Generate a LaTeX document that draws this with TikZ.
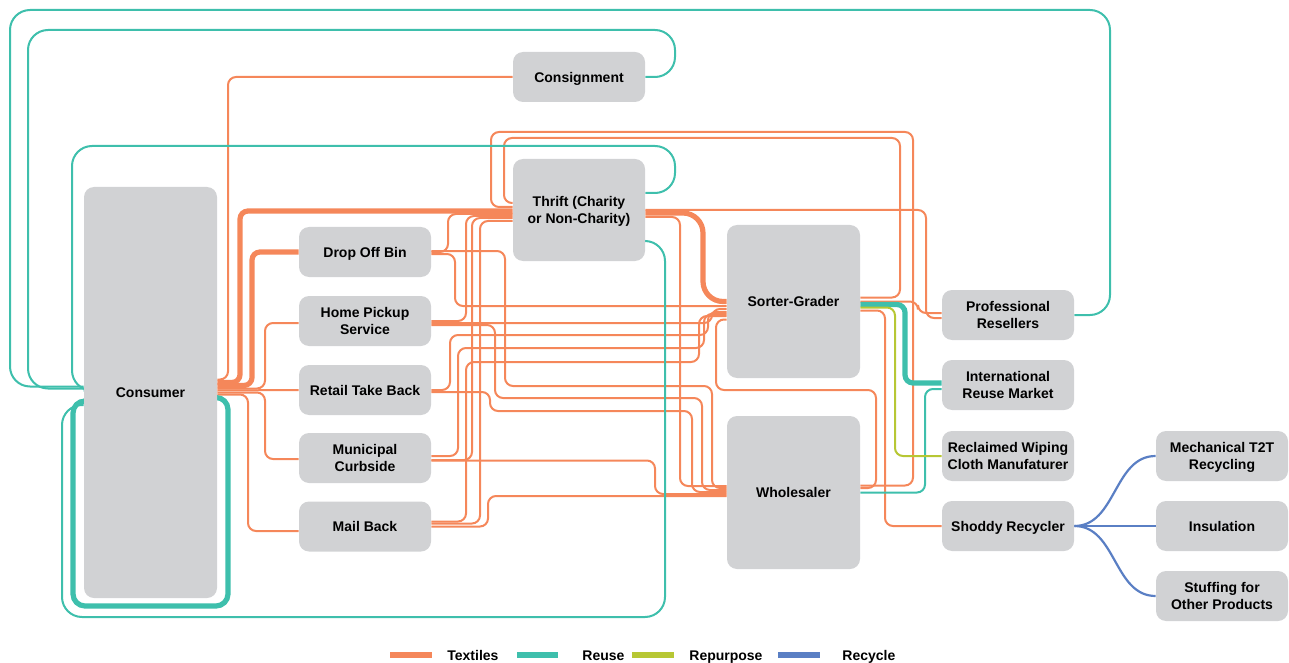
\documentclass[tikz,border=0pt]{standalone}
\usepackage{fontspec}
\setmainfont{Liberation Sans}
\usetikzlibrary{calc,backgrounds}
\definecolor{cTextile}{RGB}{245,135,90}
\definecolor{cReuse}{RGB}{62,191,172}
\definecolor{cRepurpose}{RGB}{183,199,52}
\definecolor{cRecycle}{RGB}{90,127,196}
\definecolor{cBox}{RGB}{209,210,212}
\begin{document}
\begin{tikzpicture}[x=0.5pt,y=-0.5pt,
  box/.style={fill=cBox, rounded corners=5pt, inner sep=0pt,
    minimum width=66pt, minimum height=25pt, align=center, text depth=0pt,
    font=\fontsize{7}{8.5}\selectfont\bfseries, text=black},
  conn/.style={line width=1pt, rounded corners=4pt},
  tx/.style={conn, draw=cTextile},
  txb/.style={tx, line width=2.6pt},
  ru/.style={conn, draw=cReuse},
  rub/.style={ru, line width=2.6pt},
  bigturn/.style={rounded corners=10pt},
  rp/.style={conn, draw=cRepurpose},
  rc/.style={conn, draw=cRecycle, line width=1.1pt},
  swatch/.style={line width=2.6pt},
  keytext/.style={anchor=base west, inner sep=0pt, font=\fontsize{7}{8.5}\selectfont\bfseries}]
\useasboundingbox (0,0) rectangle (1289,663);

% ---------- stages ----------
\node[box] (consign) at (579,77) {Consignment};
\node[box, minimum width=66.5pt, minimum height=205.5pt] (cons) at (150.5,392.5) {Consumer};
\node[box, minimum height=51pt] (thrift) at (579,210) {Thrift (Charity\\or Non-Charity)};
\node[box] (drop) at (365,252) {Drop Off Bin};
\node[box] (home) at (365,321) {Home Pickup\\Service};
\node[box] (retail) at (365,390) {Retail Take Back};
\node[box] (muni) at (365,458) {Municipal\\Curbside};
\node[box] (mail) at (365,526.5) {Mail Back};
\node[box, minimum width=66.5pt, minimum height=76.5pt] (sg) at (793.5,301.5) {Sorter-Grader};
\node[box, minimum width=66.5pt, minimum height=76.5pt] (whole) at (793.5,492.5) {Wholesaler};
\node[box] (prof) at (1008,315) {Professional\\Resellers};
\node[box] (intl) at (1008,385) {International\\Reuse Market};
\node[box] (wipe) at (1008,456) {Reclaimed Wiping\\Cloth Manufaturer};
\node[box] (shoddy) at (1008,526) {Shoddy Recycler};
\node[box] (mech) at (1222,456) {Mechanical T2T\\Recycling};
\node[box] (insul) at (1222,526) {Insulation};
\node[box] (stuff) at (1222,596) {Stuffing for\\Other Products};

\begin{pgfonlayer}{background}
% ---------- textiles: consumer to collection ----------
\draw[tx] ($(cons.east)+(0,-13)$) -| (228,77) -- (consign.west);
\draw[txb] ($(cons.east)+(0,-10)$) -| (240,211) -- ($(thrift.west)+(0,1)$);
\draw[txb] ($(cons.east)+(0,-7)$) -| (252,252) -- (drop.west);
\draw[tx] ($(cons.east)+(0,-4)$) -| (265,323) -- ($(home.west)+(0,2)$);
\draw[tx] ($(cons.east)+(0,-2)$) -- (retail.west);
\draw[tx] (cons.east) -| (265,459) -- ($(muni.west)+(0,1)$);
\draw[tx] ($(cons.east)+(0,2)$) -| (248,531) -- ($(mail.west)+(0,4.5)$);

% ---------- textiles: collection to thrift ----------
\draw[tx] (drop.east) -| (448,214) -- ($(thrift.west)+(0,4)$);
\draw[tx] (home.east) -| (466,216) -- ($(thrift.west)+(0,6)$);
\draw[tx] ($(muni.east)+(0,2)$) -| (472,218) -- ($(thrift.west)+(0,8)$);
\draw[tx] ($(mail.east)+(0,-3)$) -| (480,221) -- ($(thrift.west)+(0,11)$);

% ---------- textiles: into the sorter-grader ----------
\draw[txb, rounded corners=10pt] ($(thrift.east)+(0,3)$) -| (703,301.5) -- (sg.west);
\draw[tx] ($(drop.east)+(0,2)$) -| (455,306) -- ($(sg.west)+(0,4.5)$);
\draw[tx] ($(home.east)+(0,2)$) -| (712,309) -- ($(sg.west)+(0,7.5)$);
\draw[tx] (retail.east) -| (450,335) -| (708,312) -- ($(sg.west)+(0,10.5)$);
\draw[tx] ($(muni.east)+(0,-2)$) -| (458,348) -| (704,314) -- ($(sg.west)+(0,12.5)$);
\draw[tx] ($(mail.east)+(0,-5)$) -| (466,362) -| (699,316) -- ($(sg.west)+(0,14.5)$);

% ---------- textiles: into the wholesaler ----------
\draw[tx] ($(thrift.east)+(0,7)$) -| (680,486) -- ($(whole.west)+(0,-6.5)$);
\draw[tx] ($(drop.east)+(0,-1)$) -| (505,386) -| (712,488) -- ($(whole.west)+(0,-4.5)$);
\draw[tx] ($(home.east)+(0,4)$) -| (495,398) -| (702,490) -- ($(whole.west)+(0,-2.5)$);
\draw[tx] ($(retail.east)+(0,2)$) -| (490,411) -| (692,492) -- ($(whole.west)+(0,-0.5)$);
\draw[tx] ($(muni.east)+(0,2.5)$) -| (655,494) -- ($(whole.west)+(0,1.5)$);
\draw[tx] ($(mail.east)+(0,0)$) -| (488,496) -- ($(whole.west)+(0,3.5)$);
\draw[tx] ($(sg.west)+(0,18)$) -| (716,390) -| (876,488) -- ($(whole.east)+(0,-4.5)$);

% ---------- textiles: back round to thrift ----------
\draw[tx] ($(sg.east)+(0,-4)$) -| (900,138) -| (504,203) -- ($(thrift.west)+(0,-7)$);
\draw[tx] ($(whole.east)+(0,-7)$) -| (913,132) -| (491,207) -- ($(thrift.west)+(0,-3)$);

% ---------- textiles: out to the end markets ----------
\draw[tx] (thrift.east) -| (926,318) -- ($(prof.west)+(0,3)$);
\draw[tx] (sg.east) -| (918,313) -- ($(prof.west)+(0,-2)$);
\draw[tx] ($(sg.east)+(0,9)$) -| (885,526) -- (shoddy.west);

% ---------- reuse ----------
\draw[ru, bigturn] ($(cons.west)+(0,-6)$) -| (10,10) -| (1110,315) -- (prof.east);
\draw[ru, bigturn] ($(cons.west)+(0,-4)$) -| (28,30) -| (675,77) -- (consign.east);
\draw[ru, bigturn] ($(cons.west)+(0,-2)$) -| (72,146) -| (675,193) -- ($(thrift.east)+(0,-17)$);
\draw[rub, rounded corners=6pt] ($(cons.east)+(0,5)$) -| (228,606) -| (73,401) -- ($(cons.west)+(0,8.5)$);
\draw[ru, bigturn] ($(thrift.east)+(0,31)$) -| (665,617) -| (62,405) -- ($(cons.west)+(0,12.5)$);
\draw[rub] ($(sg.east)+(0,3)$) -| (905,383) -- ($(intl.west)+(0,-2)$);
\draw[ru] (whole.east) -| (925,389) -- ($(intl.west)+(0,4)$);

% ---------- repurpose ----------
\draw[rp] ($(sg.east)+(0,6)$) -| (895,456) -- (wipe.west);

% ---------- recycle ----------
\draw[rc] (shoddy.east) to[out=0, in=180] (mech.west);
\draw[rc] (shoddy.east) -- (insul.west);
\draw[rc] (shoddy.east) to[out=0, in=180] (stuff.west);
\end{pgfonlayer}

% ---------- legend ----------
\draw[swatch, cTextile] (390,655) -- (432,655);
\node[keytext] (kTextile) at (447,660) {Textiles};
\draw[swatch, cReuse] (517,655) -- (558,655);
\node[keytext] (kReuse) at (582,660) {Reuse};
\draw[swatch, cRepurpose] (632,655) -- (674,655);
\node[keytext] (kRepurpose) at (689,660) {Repurpose};
\draw[swatch, cRecycle] (778,655) -- (820,655);
\node[keytext] (kRecycle) at (842,660) {Recycle};
\end{tikzpicture}
\end{document}
